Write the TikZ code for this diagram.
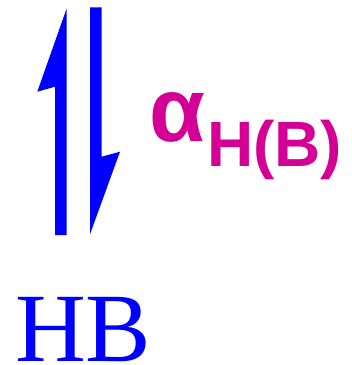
\documentclass[tikz,border=0pt]{standalone}
\usepackage{fontspec}
\setmainfont{Liberation Serif}
\newfontfamily\alphafont{Liberation Sans}
\usepackage{xcolor}
\definecolor{hbblue}{RGB}{0,0,255}
\definecolor{alphamag}{RGB}{212,0,150}
\usetikzlibrary{positioning}

\begin{document}
\begin{tikzpicture}[x=1pt, y=-1pt,
    harpoon/.style={fill=hbblue, draw=none},
    alphalbl/.style={text=alphamag, inner sep=0pt, anchor=base west, font=\alphafont\bfseries\fontsize{91}{91}\selectfont},
    sublbl/.style={text=alphamag, inner sep=0pt, anchor=base west, font=\alphafont\bfseries\fontsize{64}{64}\selectfont},
    species/.style={text=hbblue, inner sep=0pt, anchor=base west, font=\fontsize{98}{98}\selectfont}]
            \useasboundingbox (0,0) rectangle (352,365);
            \fill[harpoon] (55,235) -- (66.7,235) -- (66.7,8.3) -- (37.3,91.7) -- (55,86.7) -- cycle;
            \fill[harpoon] (90,7.3) -- (101.7,7.3) -- (101.7,156.7) -- (120,151.7) -- (90,234.3) -- cycle;
            \node[alphalbl] (alpha) at (149,141.7) {α};
            \node[sublbl] (sub) at (207,166.7) {H(B)};
            \node[species] (hb) at (15,361.7) {HB};
          \end{tikzpicture}
\end{document}
